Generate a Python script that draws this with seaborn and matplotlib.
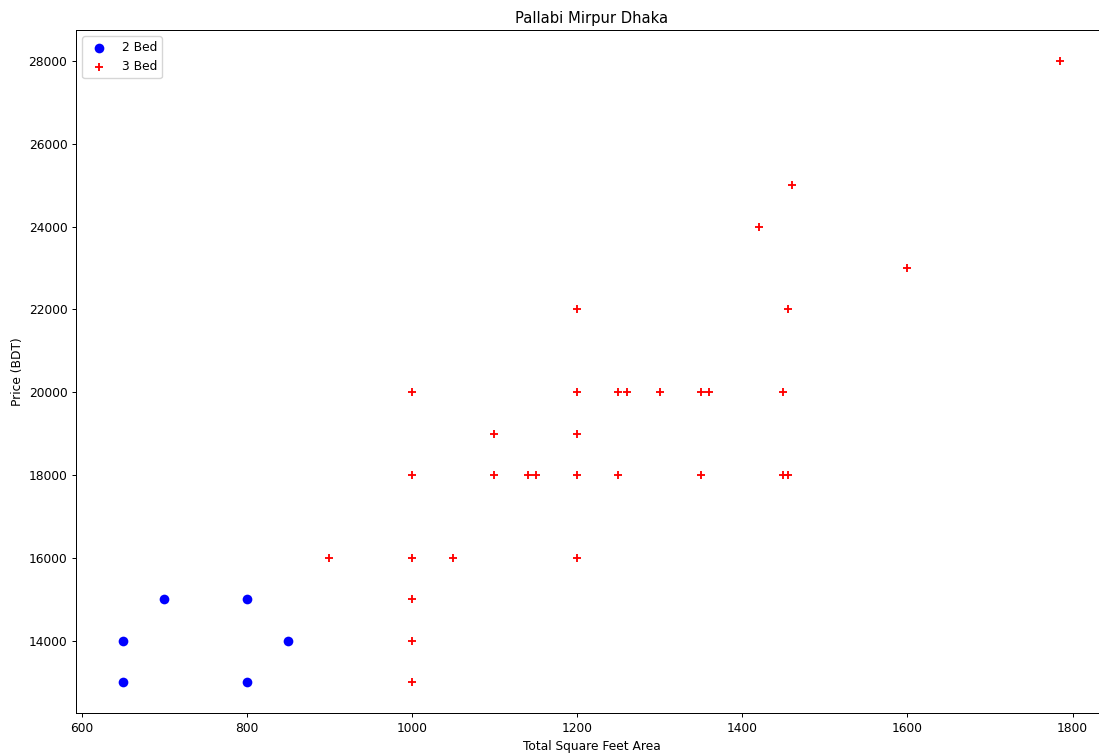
import matplotlib
matplotlib.use("Agg")
import matplotlib.pyplot as plt
import seaborn as sns
import pandas as pd

# Listings in Pallabi, Mirpur (Dhaka): area in sq ft, monthly rent in BDT
bed2_sqft = [650, 650, 700, 800, 800, 850]
bed2_price = [14000, 13000, 15000, 15000, 13000, 14000]

bed3_sqft = [900, 1000, 1000, 1000, 1000, 1000, 1000, 1050,
             1100, 1100, 1140, 1150,
             1200, 1200, 1200, 1200, 1200,
             1250, 1260, 1250, 1300, 1350, 1360, 1350,
             1420, 1460, 1455, 1450, 1450, 1455, 1600, 1785]
bed3_price = [16000, 20000, 18000, 16000, 15000, 14000, 13000, 16000,
              19000, 18000, 18000, 18000,
              22000, 20000, 19000, 18000, 16000,
              20000, 20000, 18000, 20000, 20000, 20000, 18000,
              24000, 25000, 22000, 20000, 18000, 18000, 23000, 28000]

df2 = pd.DataFrame({"total_sqft": bed2_sqft, "price": bed2_price})
df3 = pd.DataFrame({"total_sqft": bed3_sqft, "price": bed3_price})

k = 0.887  # scale of the 100-dpi canvas relative to point sizes
plt.rcParams.update({
    "font.size": 10 * k,
    "axes.linewidth": 0.8 * k,
    "xtick.major.size": 3.5 * k,
    "ytick.major.size": 3.5 * k,
    "xtick.major.width": 0.8 * k,
    "ytick.major.width": 0.8 * k,
    "xtick.major.pad": 3.5 * k,
    "ytick.major.pad": 3.5 * k,
    "legend.fontsize": 10 * k,
})

W, H = 1099, 756
fig = plt.figure(figsize=(W / 100, H / 100), dpi=100)
ax = fig.add_axes([76 / W, (H - 713) / H, 1031 / W, 683 / H])

sns.scatterplot(data=df2, x="total_sqft", y="price", ax=ax, color="blue",
                marker="o", s=62 * k * k, edgecolor="blue", linewidth=0,
                label="2 Bed")
sns.scatterplot(data=df3, x="total_sqft", y="price", ax=ax, color="red",
                marker="+", s=52 * k * k, linewidth=1.5 * k, label="3 Bed")

ax.set_xlim(593.25, 1841.75)
ax.set_ylim(12250, 28750)
ax.set_xticks([600, 800, 1000, 1200, 1400, 1600, 1800])
ax.set_yticks(list(range(14000, 28001, 2000)))
ax.set_xlabel("Total Square Feet Area", labelpad=4 * k)
ax.set_ylabel("Price (BDT)", labelpad=4 * k)
ax.set_title("Pallabi Mirpur Dhaka", fontsize=12 * k, pad=6 * k)
ax.legend(loc="upper left")

fig.savefig("out.png", dpi=100)
